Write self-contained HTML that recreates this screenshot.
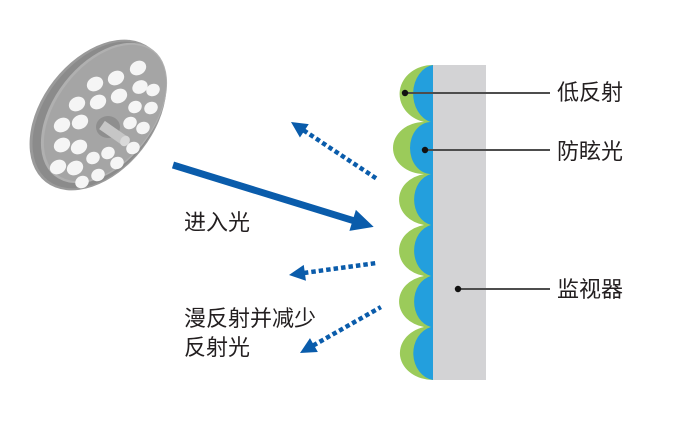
<!DOCTYPE html>
<html><head><meta charset="utf-8"><style>
html,body{margin:0;padding:0;background:#fff;}
svg{display:block;}
text{font-family:"Liberation Sans","Noto Sans CJK SC",sans-serif;font-size:22px;fill:#231f20;}
</style></head><body>
<svg width="700" height="436" viewBox="0 0 700 436" xmlns="http://www.w3.org/2000/svg">
<!-- lamp -->
<g>
<ellipse cx="98" cy="115" rx="56" ry="85" transform="rotate(38 98 115)" fill="#9a9a9a"/>
<ellipse cx="99" cy="115" rx="54" ry="83" transform="rotate(38 99 115)" fill="#8b8b8b"/>
<ellipse cx="104" cy="113" rx="50" ry="80" transform="rotate(38 104 113)" fill="#b0b0b0"/>
<ellipse cx="105" cy="113" rx="48" ry="78" transform="rotate(38 105 113)" fill="#a5a5a5"/>
<g fill="#f5f5f5">
<ellipse cx="138" cy="68" rx="8.5" ry="7" transform="rotate(-30 138 68)"/>
<ellipse cx="116" cy="78" rx="8.5" ry="7" transform="rotate(-30 116 78)"/>
<ellipse cx="95" cy="84" rx="8.5" ry="7" transform="rotate(-30 95 84)"/>
<ellipse cx="140" cy="87" rx="8" ry="6.5" transform="rotate(-30 140 87)"/>
<ellipse cx="153" cy="90" rx="7" ry="6" transform="rotate(-30 153 90)"/>
<ellipse cx="119" cy="96" rx="8.5" ry="7" transform="rotate(-30 119 96)"/>
<ellipse cx="98" cy="102" rx="8.5" ry="7" transform="rotate(-30 98 102)"/>
<ellipse cx="77" cy="104" rx="8.5" ry="7" transform="rotate(-30 77 104)"/>
<ellipse cx="135" cy="107" rx="7" ry="6" transform="rotate(-30 135 107)"/>
<ellipse cx="151" cy="108" rx="7" ry="6" transform="rotate(-30 151 108)"/>
<ellipse cx="80" cy="122" rx="8.5" ry="7" transform="rotate(-30 80 122)"/>
<ellipse cx="62" cy="125" rx="8.5" ry="7" transform="rotate(-30 62 125)"/>
<ellipse cx="130" cy="123" rx="7" ry="6" transform="rotate(-30 130 123)"/>
<ellipse cx="143" cy="128" rx="7" ry="6" transform="rotate(-30 143 128)"/>
<ellipse cx="62" cy="145" rx="8.5" ry="7" transform="rotate(-30 62 145)"/>
<ellipse cx="79" cy="147" rx="8.5" ry="7" transform="rotate(-30 79 147)"/>
<ellipse cx="133" cy="148" rx="7" ry="6" transform="rotate(-30 133 148)"/>
<ellipse cx="108" cy="153" rx="7" ry="6" transform="rotate(-30 108 153)"/>
<ellipse cx="93" cy="158" rx="7" ry="6" transform="rotate(-30 93 158)"/>
<ellipse cx="117" cy="163" rx="7" ry="6" transform="rotate(-30 117 163)"/>
<ellipse cx="58" cy="167" rx="8.5" ry="7" transform="rotate(-30 58 167)"/>
<ellipse cx="75" cy="168" rx="8.5" ry="7" transform="rotate(-30 75 168)"/>
<ellipse cx="98" cy="175" rx="7" ry="6" transform="rotate(-30 98 175)"/>
<ellipse cx="82" cy="182" rx="7" ry="6" transform="rotate(-30 82 182)"/>
</g>
<ellipse cx="108" cy="127" rx="12" ry="11" fill="#8e8e8e"/>
<line x1="102" y1="125" x2="125" y2="141" stroke="#c6c6c6" stroke-width="10"/>
<ellipse cx="125" cy="141" rx="4.5" ry="5.5" transform="rotate(35 125 141)" fill="#d9d9d9"/>
</g>

<!-- monitor -->
<rect x="432" y="65" width="54" height="315" fill="#d3d3d5"/>
<path d="M433,65 A33,29 0 0 0 424,122 A31,26 0 0 0 424,174 A31,26 0 0 0 424,225 A31,26 0 0 0 424,276 A31,26 0 0 0 424,327 A33,27 0 0 0 433,380 Z" fill="#9bcb5a"/>
<path d="M433,65 A23,29 0 0 0 431,122 A21,26 0 0 0 431,174 A21,26 0 0 0 431,225 A21,26 0 0 0 431,276 A21,26 0 0 0 431,327 A23,27 0 0 0 433,380 Z" fill="#239fdd"/>

<!-- label lines -->
<g stroke="#4d4d4d" stroke-width="2">
<line x1="405" y1="93" x2="550" y2="93"/>
<line x1="425" y1="150" x2="550" y2="150"/>
<line x1="458" y1="289" x2="550" y2="289"/>
</g>
<g fill="#111">
<circle cx="405" cy="93" r="3.2"/>
<circle cx="425" cy="150" r="3.2"/>
<circle cx="458" cy="289" r="3.2"/>
</g>

<!-- main arrow -->
<g transform="translate(173,165) rotate(17.14)" fill="#0a5cab">
<line x1="0" y1="0" x2="192" y2="0" stroke="#0a5cab" stroke-width="7"/>
<polygon points="188,-11 210,0 188,11"/>
</g>

<!-- dotted arrows -->
<g fill="#0a5cab" stroke="none">
<g transform="translate(291,122) rotate(33.5)">
<polygon points="0,0 16,-8 16,8"/>
<line x1="15" y1="0" x2="103" y2="0" stroke="#0a5cab" stroke-width="4.5" stroke-dasharray="4.5 3"/>
</g>
<g transform="translate(289,275) rotate(-7.8)">
<polygon points="0,0 16,-8 16,8"/>
<line x1="15" y1="0" x2="89" y2="0" stroke="#0a5cab" stroke-width="4.5" stroke-dasharray="4.5 3"/>
</g>
<g transform="translate(300,353) rotate(-29.6)">
<polygon points="0,0 16,-8 16,8"/>
<line x1="15" y1="0" x2="93" y2="0" stroke="#0a5cab" stroke-width="4.5" stroke-dasharray="4.5 3"/>
</g>
</g>

<!-- text -->
<text x="557" y="100">低反射</text>
<text x="557" y="159">防眩光</text>
<text x="557" y="297">监视器</text>
<text x="184" y="230">进入光</text>
<text x="184" y="326">漫反射并减少</text>
<text x="184" y="355">反射光</text>
</svg>
</body></html>
